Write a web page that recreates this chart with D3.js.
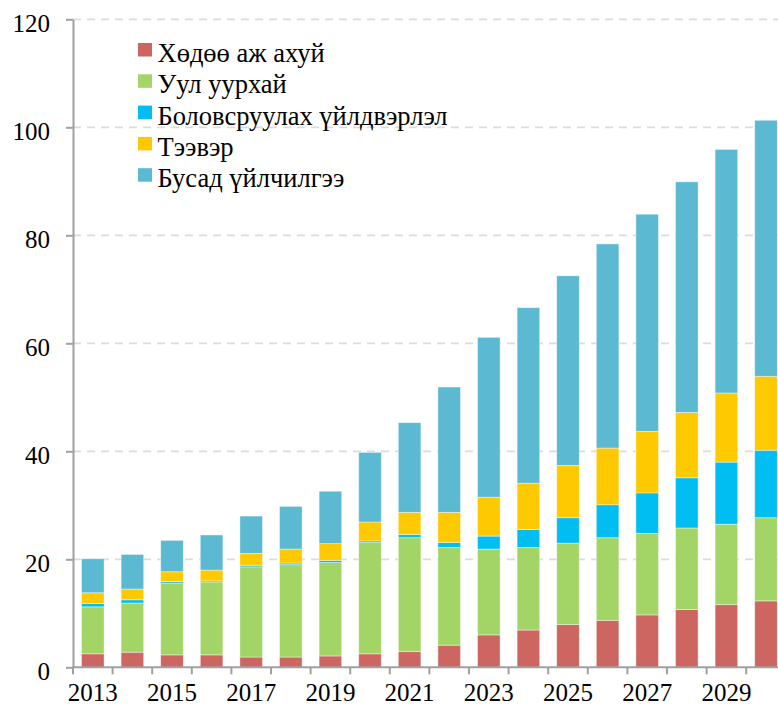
<!DOCTYPE html>
<html>
<head>
<meta charset="utf-8">
<script src="https://cdn.jsdelivr.net/npm/d3@7"></script>
<style>
  body { margin: 0; background: #fff; }
  svg text { font-family: "Liberation Serif", "Times New Roman", Tinos, "DejaVu Serif", serif; fill: #000; }
</style>
</head>
<body>
<script>
"use strict";

// Sector contributions by year
const years = [2013, 2014, 2015, 2016, 2017, 2018, 2019, 2020, 2021,
               2022, 2023, 2024, 2025, 2026, 2027, 2028, 2029, 2030];
const agriculture   = [2.5, 2.8, 2.3, 2.3, 1.9, 1.9, 2.1, 2.5, 2.9, 4.1, 6.0, 6.9, 7.9, 8.7, 9.7, 10.7, 11.6, 12.3];
const mining        = [8.7, 9.1, 13.3, 13.5, 16.7, 17.1, 17.3, 20.6, 21.1, 18.1, 15.9, 15.3, 15.1, 15.3, 15.1, 15.1, 14.9, 15.4];
const manufacturing = [0.6, 0.6, 0.3, 0.2, 0.3, 0.3, 0.4, 0.3, 0.6, 0.9, 2.4, 3.3, 4.7, 6.1, 7.5, 9.3, 11.5, 12.5];
const transport     = [2.0, 2.0, 1.8, 2.0, 2.2, 2.6, 3.1, 3.5, 4.1, 5.6, 7.2, 8.6, 9.7, 10.5, 11.4, 12.1, 12.8, 13.7];
const otherServices = [6.3, 6.4, 5.8, 6.5, 6.9, 7.9, 9.7, 12.9, 16.6, 23.2, 29.6, 32.5, 35.1, 37.8, 40.2, 42.7, 45.1, 47.4];

const seriesNames  = ["Хөдөө аж ахуй", "Уул уурхай", "Боловсруулах үйлдвэрлэл", "Тээвэр", "Бусад үйлчилгээ"];
const seriesKeys   = ["agriculture", "mining", "manufacturing", "transport", "other"];
const seriesColors = ["#cd6660", "#a2d565", "#00bdf2", "#ffc900", "#5bb9d1"];
const yTicks = [0, 20, 40, 60, 80, 100, 120];

const width = 778, height = 707;
const left = 73, baseY = 667.3, topY = 19.3;
const step = 39.6;
const fontFamily = '"Liberation Serif", "Times New Roman", Tinos, "DejaVu Serif", serif';

let table = years.map((year, i) => ({
  year: year,
  agriculture: agriculture[i],
  mining: mining[i],
  manufacturing: manufacturing[i],
  transport: transport[i],
  other: otherServices[i]
}));

let svg = d3.select("body").append("svg")
    .attr("width", width)
    .attr("height", height)
    .style("font-family", fontFamily);

let x = d3.scaleBand()
    .domain(years)
    .range([left, left + step * years.length])
    .paddingInner(0.43)
    .paddingOuter(0.215);

let y = d3.scaleLinear()
    .domain([0, 120])
    .range([baseY, topY]);

// grid lines
svg.append("g")
  .selectAll("line")
  .data(yTicks.slice(1))
  .enter().append("line")
    .attr("x1", left)
    .attr("x2", width)
    .attr("y1", d => y(d))
    .attr("y2", d => y(d))
    .attr("stroke", "#dcdcdc")
    .attr("stroke-width", 1.8)
    .attr("stroke-dasharray", "8,6");

// stacked bars
let stack = d3.stack().keys(seriesKeys)(table);

svg.append("g")
  .selectAll("g")
  .data(stack)
  .enter().append("g")
    .attr("fill", (d, i) => seriesColors[i])
  .selectAll("rect")
  .data(d => d)
  .enter().append("rect")
    .attr("x", d => x(d.data.year))
    .attr("width", x.bandwidth())
    .attr("y", d => y(d[1]))
    .attr("height", d => y(d[0]) - y(d[1]))
    .attr("stroke", "#ffffff")
    .attr("stroke-opacity", 0.5)
    .attr("stroke-width", 0.8);

// y axis
let yAxis = svg.append("g")
    .attr("transform", `translate(${left},0)`)
    .call(d3.axisLeft(y).tickValues(yTicks).tickSize(7).tickPadding(16).tickSizeOuter(0))
    .attr("font-family", null);
yAxis.select(".domain").attr("stroke", "#a0a0a0").attr("stroke-width", 2);
yAxis.selectAll(".tick line").attr("stroke", "#a0a0a0").attr("stroke-width", 2);
yAxis.selectAll(".tick text")
    .attr("font-size", 25)
    .style("font-family", fontFamily)
    .attr("dy", "0.5em");

// x axis: ticks on band boundaries, labels every second year
let xAxis = svg.append("g");
let boundaries = years.map(d => x(d) - (x.step() - x.bandwidth()) / 2);
boundaries.push(x(years[years.length - 1]) + x.bandwidth() + (x.step() - x.bandwidth()) / 2);

xAxis.append("line")
    .attr("x1", left - 1)
    .attr("x2", width)
    .attr("y1", baseY)
    .attr("y2", baseY)
    .attr("stroke", "#a0a0a0")
    .attr("stroke-width", 2);

xAxis.selectAll("line.tick")
  .data(boundaries)
  .enter().append("line")
    .attr("class", "tick")
    .attr("x1", d => d)
    .attr("x2", d => d)
    .attr("y1", baseY)
    .attr("y2", baseY + 7)
    .attr("stroke", "#a0a0a0")
    .attr("stroke-width", 2);

xAxis.selectAll("text")
  .data(years.filter((d, i) => i % 2 === 0))
  .enter().append("text")
    .attr("x", d => x(d) + x.bandwidth() / 2)
    .attr("y", 701)
    .attr("text-anchor", "middle")
    .attr("font-size", 25)
    .text(d => d);

// legend
let legend = svg.append("g")
    .attr("transform", "translate(138,62)");

let item = legend.selectAll("g")
  .data(seriesNames)
  .enter().append("g")
    .attr("transform", (d, i) => `translate(0,${i * 31.3})`);

item.append("rect")
    .attr("x", 0)
    .attr("y", -19)
    .attr("width", 14)
    .attr("height", 13.5)
    .attr("fill", (d, i) => seriesColors[i]);

item.append("text")
    .attr("x", 19.5)
    .attr("y", 0)
    .attr("font-size", 26.5)
    .text(d => d);
</script>
</body>
</html>
